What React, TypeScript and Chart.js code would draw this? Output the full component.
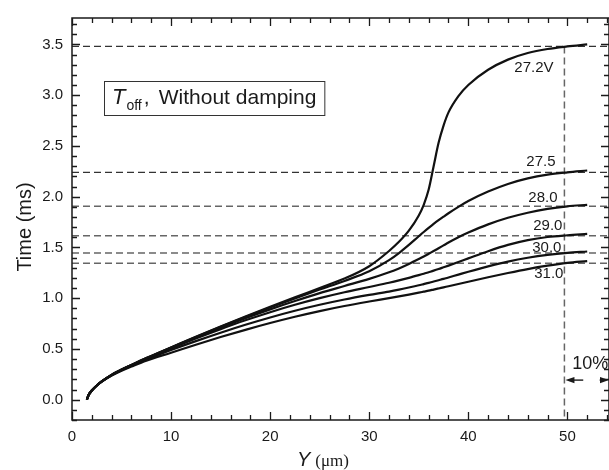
import React, { useEffect, useRef } from 'react';
import { Chart, registerables } from 'chart.js';

Chart.register(...registerables);

// Y position along the beam (µm)
const yMicrons = [1.5, 1.7, 2, 2.5, 3, 4, 5, 6, 7.5, 10, 12.5, 15, 17.5, 20, 22.5, 25, 27.5, 30, 32, 33, 34, 35, 35.5, 36, 36.5, 37, 37.5, 38, 39, 40, 42, 44, 46, 48, 50, 52];

// Time (ms) for each actuation voltage
const t272 = [0, 0.05, 0.09, 0.14, 0.18, 0.245, 0.297, 0.343, 0.41, 0.515, 0.62, 0.722, 0.82, 0.915, 1.008, 1.10, 1.193, 1.315, 1.465, 1.555, 1.665, 1.815, 1.92, 2.07, 2.30, 2.53, 2.70, 2.83, 2.99, 3.10, 3.25, 3.35, 3.415, 3.455, 3.48, 3.50];
const t275 = [0, 0.05, 0.09, 0.14, 0.18, 0.245, 0.297, 0.343, 0.41, 0.515, 0.618, 0.718, 0.815, 0.908, 0.998, 1.085, 1.17, 1.265, 1.375, 1.445, 1.525, 1.61, 1.652, 1.692, 1.731, 1.768, 1.803, 1.837, 1.90, 1.957, 2.05, 2.125, 2.18, 2.217, 2.24, 2.258];
const t280 = [0, 0.05, 0.09, 0.14, 0.18, 0.244, 0.295, 0.341, 0.407, 0.512, 0.613, 0.71, 0.803, 0.89, 0.972, 1.05, 1.12, 1.19, 1.255, 1.293, 1.337, 1.385, 1.41, 1.437, 1.464, 1.492, 1.52, 1.548, 1.60, 1.646, 1.727, 1.792, 1.842, 1.88, 1.905, 1.92];
const t290 = [0, 0.05, 0.09, 0.14, 0.18, 0.243, 0.293, 0.338, 0.402, 0.505, 0.603, 0.695, 0.782, 0.862, 0.935, 1.0, 1.058, 1.11, 1.152, 1.175, 1.20, 1.227, 1.241, 1.256, 1.271, 1.287, 1.304, 1.321, 1.356, 1.392, 1.463, 1.525, 1.572, 1.603, 1.62, 1.633];
const t300 = [0, 0.05, 0.09, 0.14, 0.179, 0.241, 0.29, 0.333, 0.395, 0.49, 0.577, 0.66, 0.738, 0.81, 0.876, 0.935, 0.987, 1.032, 1.065, 1.084, 1.105, 1.127, 1.139, 1.151, 1.164, 1.177, 1.19, 1.204, 1.232, 1.26, 1.313, 1.36, 1.398, 1.427, 1.447, 1.46];
const t310 = [0, 0.05, 0.09, 0.138, 0.177, 0.238, 0.286, 0.327, 0.385, 0.463, 0.542, 0.617, 0.688, 0.755, 0.817, 0.873, 0.923, 0.967, 1.0, 1.017, 1.035, 1.054, 1.064, 1.074, 1.085, 1.096, 1.107, 1.118, 1.14, 1.162, 1.206, 1.248, 1.287, 1.32, 1.347, 1.365];

const curveLabels = ['27.2V', '27.5', '28.0', '29.0', '30.0', '31.0'];
const curveValues = [t272, t275, t280, t290, t300, t310];
// label anchor (right edge, vertical middle) in data units
const labelAnchorX = [48.6, 48.8, 49.0, 49.5, 49.4, 49.6];
const labelAnchorY = [3.265, 2.343, 1.99, 1.716, 1.5, 1.235];

// dashed reference levels (ms) and the 90% position (µm)
const refLevels = [3.48, 2.24, 1.905, 1.615, 1.445, 1.345];
const cutoffY = 49.7;

const X_MIN = 0;
const X_MAX = 54.2;
const Y_MIN = -0.2;
const Y_MAX = 3.76;

// "10%" annotation (data units)
const pctText = '10%';
const pctTextX = 50.5;
const pctTextY = 0.353;
const arrowY = 0.193;
const leftArrowTail = 51.6;
const rightArrowTail = 53.26;

const SANS = "'Liberation Sans', Arial, Helvetica, sans-serif";
const SERIF = "'Liberation Serif', 'Times New Roman', serif";
const INK = '#1a1a1a';

function arrow(ctx: CanvasRenderingContext2D, x0: number, y: number, x1: number) {
  const dir = Math.sign(x1 - x0);
  const head = 9;
  ctx.beginPath();
  ctx.moveTo(x0, y);
  ctx.lineTo(x1 - dir * head * 0.6, y);
  ctx.stroke();
  ctx.beginPath();
  ctx.moveTo(x1, y);
  ctx.lineTo(x1 - dir * head, y - 3.2);
  ctx.lineTo(x1 - dir * head, y + 3.2);
  ctx.closePath();
  ctx.fill();
}

const decorPlugin = {
  id: 'decor',
  afterDatasetsDraw(chart: any) {
    const { ctx, chartArea: ca, scales } = chart;
    const xs = scales.x;
    const ys = scales.y;
    ctx.save();
    // frame
    ctx.strokeStyle = INK;
    ctx.lineWidth = 1.5;
    ctx.strokeRect(ca.left, ca.top, ca.right - ca.left, ca.bottom - ca.top);
    // inward ticks
    ctx.lineWidth = 1.3;
    ctx.beginPath();
    for (let i = 0; i * 2 <= X_MAX; i++) {
      const v = i * 2;
      const px = Math.round(xs.getPixelForValue(v)) + 0.5;
      const L = v % 10 === 0 ? 8 : 5;
      ctx.moveTo(px, ca.bottom);
      ctx.lineTo(px, ca.bottom - L);
      ctx.moveTo(px, ca.top);
      ctx.lineTo(px, ca.top + L);
    }
    for (let i = -2; i / 10 <= Y_MAX; i++) {
      const py = Math.round(ys.getPixelForValue(i / 10)) + 0.5;
      const L = i % 5 === 0 ? 8 : 5;
      ctx.moveTo(ca.left, py);
      ctx.lineTo(ca.left + L, py);
      ctx.moveTo(ca.right, py);
      ctx.lineTo(ca.right - L, py);
    }
    ctx.stroke();

    // curve labels
    ctx.fillStyle = INK;
    ctx.font = `15px ${SANS}`;
    ctx.textAlign = 'right';
    ctx.textBaseline = 'middle';
    curveLabels.forEach((lab, i) => {
      ctx.fillText(lab, xs.getPixelForValue(labelAnchorX[i]), ys.getPixelForValue(labelAnchorY[i]));
    });

    // 10% annotation
    ctx.textAlign = 'left';
    ctx.font = `18px ${SANS}`;
    ctx.fillText(pctText, xs.getPixelForValue(pctTextX), ys.getPixelForValue(pctTextY));
    ctx.lineWidth = 1.4;
    ctx.strokeStyle = INK;
    const ay = ys.getPixelForValue(arrowY);
    arrow(ctx, xs.getPixelForValue(leftArrowTail), ay, xs.getPixelForValue(cutoffY) + 1);
    arrow(ctx, xs.getPixelForValue(rightArrowTail), ay, xs.getPixelForValue(X_MAX));

    // legend box
    const bx = ca.left + 32;
    const by = ca.top + 63;
    const bh = 34;
    const base = by + 23;
    ctx.textBaseline = 'alphabetic';
    ctx.font = `italic 22px ${SANS}`;
    ctx.fillText('T', bx + 8, base);
    const wT = ctx.measureText('T').width;
    ctx.font = `14px ${SANS}`;
    ctx.fillText('off', bx + 8 + wT + 1, base + 6);
    const wOff = ctx.measureText('off').width;
    ctx.font = `21px ${SANS}`;
    const cx = bx + 8 + wT + 1 + wOff + 2;
    ctx.fillText(',', cx, base);
    const wx = cx + 15;
    ctx.fillText('Without damping', wx, base);
    const wW = ctx.measureText('Without damping').width;
    ctx.lineWidth = 1;
    ctx.strokeStyle = '#333';
    ctx.strokeRect(bx + 0.5, by + 0.5, wx + wW + 8 - bx, bh);

    // axis titles
    ctx.font = `20px ${SANS}`;
    ctx.save();
    ctx.translate(31, 227);
    ctx.rotate(-Math.PI / 2);
    ctx.textAlign = 'center';
    ctx.textBaseline = 'alphabetic';
    ctx.fillText('Time (ms)', 0, 0);
    ctx.restore();

    ctx.textAlign = 'left';
    ctx.textBaseline = 'alphabetic';
    ctx.font = `italic 20px ${SANS}`;
    const yTitleX = 297;
    const yTitleBase = 466;
    ctx.fillText('Y', yTitleX, yTitleBase);
    const wY = ctx.measureText('Y').width;
    ctx.font = `17px ${SERIF}`;
    ctx.fillText('(\u03bcm)', yTitleX + wY + 5, yTitleBase);
    ctx.restore();
  },
};

export default function App() {
  const ref = useRef<HTMLCanvasElement>(null);
  useEffect(() => {
    const canvas = ref.current;
    if (!canvas) return;
    const curveSets = curveValues.map((vals, i) => ({
      label: curveLabels[i],
      data: yMicrons.map((x, j) => ({ x, y: vals[j] })),
      borderColor: '#111',
      borderWidth: 2.2,
      pointRadius: 0,
      cubicInterpolationMode: 'monotone' as const,
      fill: false,
      order: 1,
    }));
    const levelSets = refLevels.map((v, i) => ({
      label: 'level' + i,
      data: [{ x: X_MIN, y: v }, { x: X_MAX, y: v }],
      borderColor: i < 2 ? '#333' : '#666',
      borderWidth: i < 2 ? 1.2 : 1.5,
      borderDash: [7, 4],
      pointRadius: 0,
      fill: false,
      order: 2,
    }));
    const cutoffSet = {
      label: 'cutoff',
      data: [{ x: cutoffY, y: refLevels[0] }, { x: cutoffY, y: Y_MIN }],
      borderColor: '#666',
      borderWidth: 1.5,
      borderDash: [7, 4],
      pointRadius: 0,
      fill: false,
      order: 2,
    };
    const tickFont = { family: SANS, size: 15 };
    const chart = new Chart(canvas, {
      type: 'line',
      data: { datasets: [...curveSets, ...levelSets, cutoffSet] as any },
      options: {
        animation: false,
        responsive: false,
        maintainAspectRatio: false,
        layout: { padding: { top: 15, right: 0, left: 0, bottom: 0 } },
        plugins: { legend: { display: false }, tooltip: { enabled: false } },
        scales: {
          x: {
            type: 'linear',
            min: X_MIN,
            max: X_MAX,
            afterFit: (s: any) => { s.height = 50; },
            grid: { display: false, drawTicks: false },
            border: { display: false },
            ticks: {
              stepSize: 10,
              includeBounds: false,
              padding: 8,
              autoSkip: false,
              maxRotation: 0,
              font: tickFont,
              color: INK,
              callback: (v: any) => (Math.abs(v % 10) < 1e-9 ? String(Math.round(v)) : ''),
            },
          },
          y: {
            type: 'linear',
            min: Y_MIN,
            max: Y_MAX,
            afterFit: (s: any) => { s.width = 72; },
            grid: { display: false, drawTicks: false },
            border: { display: false },
            ticks: {
              stepSize: 0.5,
              includeBounds: false,
              padding: 9,
              autoSkip: false,
              font: tickFont,
              color: INK,
              callback: (v: any) => {
                const r = Math.round(v * 10);
                return r % 5 === 0 ? (r / 10).toFixed(1) : '';
              },
            },
          },
        },
      } as any,
      plugins: [decorPlugin],
    });
    return () => chart.destroy();
  }, []);
  return (
    <div style={{ position: 'fixed', left: 0, top: 0, width: 609, height: 470, background: '#fff' }}>
      <canvas ref={ref} width={609} height={470} style={{ display: 'block', width: 609, height: 470 }} />
    </div>
  );
}
